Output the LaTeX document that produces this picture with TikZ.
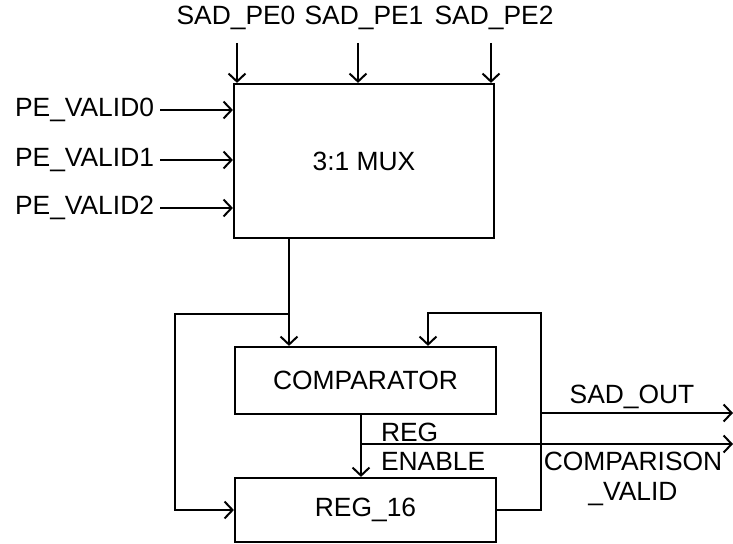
\documentclass[tikz,border=0pt]{standalone}
\usepackage{fontspec}
\setmainfont{Liberation Sans}
\usetikzlibrary{arrows.meta,positioning}

\begin{document}
\begin{tikzpicture}[
  x=1bp, y=-1bp,
  font=\fontsize{26.5}{30}\selectfont,
  line width=2bp,
  blk/.style={rectangle, draw=black, line width=2.2bp, inner sep=0pt},
  sig/.style={-{Straight Barb[length=8bp,width=17bp,line width=2bp]}},
  lbl/.style={inner sep=0pt},
]
\useasboundingbox (0,0) rectangle (733,544);
% blocks
\node[blk, minimum width=260bp, minimum height=154bp] (mux) at (364,161) {3:1 MUX};
\node[blk, minimum width=261bp, minimum height=67bp] (cmp) at (365.5,380.5) {COMPARATOR};
\node[blk, minimum width=261bp, minimum height=64bp] (reg) at (365.5,510) {REG\_16};
% top inputs
\node[lbl] (sad0) at (236,18) {SAD\_PE0};
\node[lbl] (sad1) at (364,18) {SAD\_PE1};
\node[lbl] (sad2) at (494,18) {SAD\_PE2};
\draw[sig] ([xshift=1bp,yshift=-12bp]sad0.south) -- ([xshift=1bp]sad0.south|-mux.north);
\draw[sig] ([xshift=-6bp,yshift=-12bp]sad1.south) -- ([xshift=-6bp]sad1.south|-mux.north);
\draw[sig] ([xshift=-3bp,yshift=-12bp]sad2.south) -- ([xshift=-3bp]sad2.south|-mux.north);
% left inputs
\node[lbl, anchor=east] (pv0) at (155,110) {PE\_VALID0};
\node[lbl, anchor=east] (pv1) at (155,160) {PE\_VALID1};
\node[lbl, anchor=east] (pv2) at (155,208) {PE\_VALID2};
\draw[sig] ([xshift=5bp]pv0.east) -- (mux.west|-pv0.east);
\draw[sig] ([xshift=5bp]pv1.east) -- (mux.west|-pv1.east);
\draw[sig] ([xshift=5bp]pv2.east) -- (mux.west|-pv2.east);
% mux output to comparator and register
\coordinate (tap) at (289,314);
\coordinate (lft) at (175,314);
\draw[sig] (mux.south-|tap) -- (cmp.north-|tap);
\draw[sig] (tap) -- (lft) -- (lft|-reg.west) -- (reg.west);
% register feedback
\coordinate (fbr) at (541,313);
\coordinate (fbl) at (428,313);
\draw[sig] (reg.east) -- (fbr|-reg.east) -- (fbr) -- (fbl) -- (cmp.north-|fbl);
% outputs
\coordinate (so) at (733,413);
\coordinate (cv) at (733,444);
\coordinate (en) at (361,444);
\draw[sig] (fbr|-so) -- (so);
\node[lbl] (sadout) at (632,397) {SAD\_OUT};
\draw[sig] (cmp.south-|en) -- (reg.north-|en);
\draw[sig] (en) -- (cv);
\node[lbl, anchor=west] (regtxt) at (380,432) {REG};
\node[lbl, anchor=west] (entxt) at (380,461) {ENABLE};
\node[lbl, align=center] (cmpv) at (633,479) {COMPARISON\\\_VALID};
\end{tikzpicture}
\end{document}
